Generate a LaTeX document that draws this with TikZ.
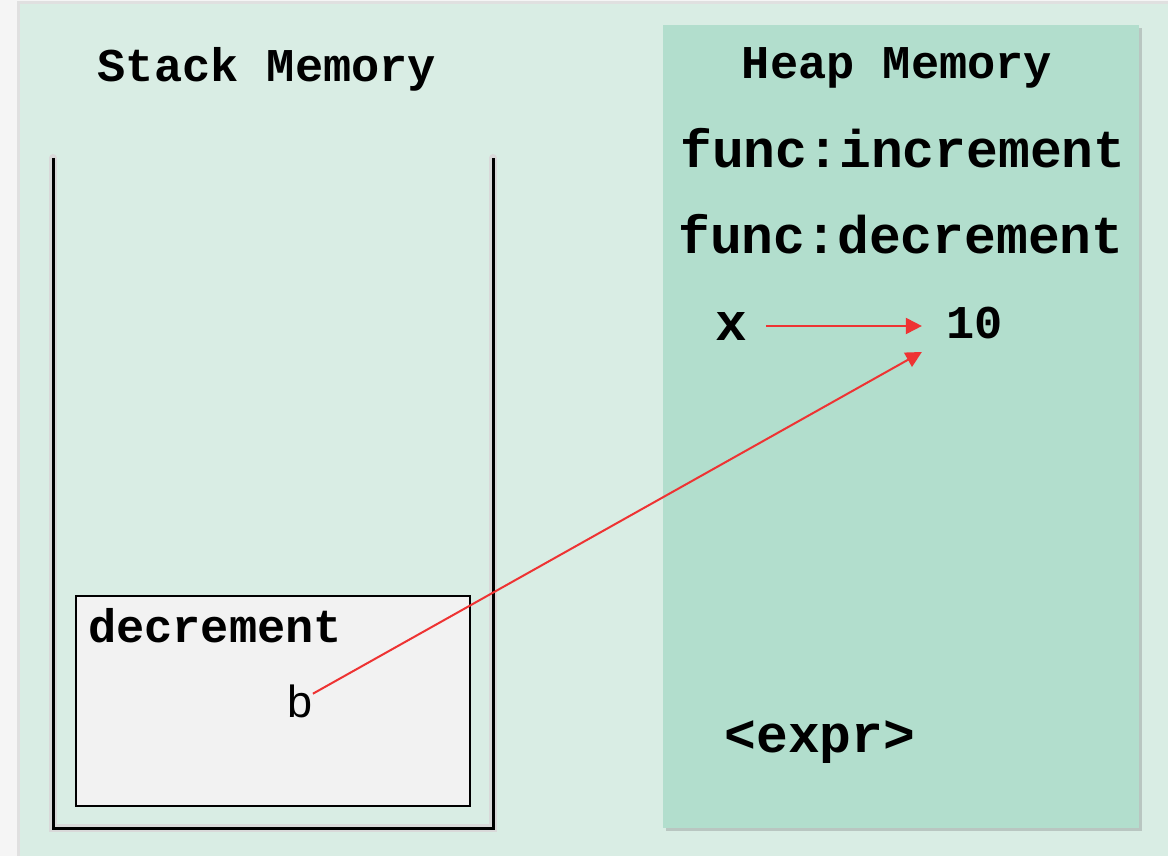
\documentclass[tikz,border=0pt]{standalone}
\usepackage{fontspec}
\usepackage{xcolor}
\usepackage{tikz}
\usetikzlibrary{arrows.meta, shadows}
\newfontfamily\codefont{Liberation Mono}
\newfontfamily\plainfont{Liberation Sans}
\definecolor{paneBg}{HTML}{D9EDE4}
\definecolor{heapBg}{HTML}{B2DECD}
\definecolor{frameBg}{HTML}{F2F2F2}
\definecolor{ptrRed}{HTML}{EE3333}

\begin{document}
\begin{tikzpicture}[
            x=0.5pt, y=-0.5pt,
            title text/.style = {
                font=\codefont\bfseries\fontsize{23.5}{26}\selectfont,
                anchor=base, inner sep=0pt
            },
            code text/.style = {
                font=\codefont\bfseries\fontsize{26.5}{30}\selectfont,
                anchor=base, inner sep=0pt
            },
            value text/.style = {
                font=\codefont\bfseries\fontsize{23.5}{26}\selectfont,
                anchor=base
            },
            name text/.style = {
                font=\plainfont\fontsize{22.5}{26}\selectfont,
                anchor=base
            },
            pointer/.style = {
                draw=ptrRed, line width=1pt,
                -{Triangle[length=8pt, width=8pt]}
            }
            ]

            % panels
            \fill[black!4] (0,0) rectangle (1168,856);
            \fill[black!12] (17,1) rectangle (1168,856);
            \fill[paneBg] (20,4) rectangle (1168,856);
            \fill[heapBg, drop shadow={opacity=0.35, shadow xshift=1.5pt, shadow yshift=-1.5pt}]
                (663,25) rectangle (1139,828);

            % stack container
            \draw[line width=4pt, black!15, line cap=round] (53,158) -- (53,828) -- (493,828) -- (493,158);
            \draw[line width=1.5pt] (53,158) -- (53,828) -- (493,828) -- (493,158);

            % frame of decrement
            \draw[fill=frameBg, line width=1pt] (76,596) rectangle (470,806);

            \node[title text] (stacktitle) at (267,82) {Stack Memory};
            \node[title text] (heaptitle) at (897,79) {Heap Memory};
            \node[title text] (frame) at (215,642) {decrement};

            \node[code text] (finc) at (903,168) {func:increment};
            \node[code text] (fdec) at (901,253) {func:decrement};
            \node[code text, inner xsep=9.5pt] (x) at (731,340) {x};
            \node[code text] (expr) at (820,752) {<expr>};

            \node[value text, inner xsep=12pt, inner ysep=12pt] (ten) at (974.5,338) {10};
            \node[name text, inner sep=0pt] (b) at (300,717) {b};

            \draw[pointer] (x.east) -- (x.east -| ten.west);
            \draw[pointer] (b) -- (ten);

            \useasboundingbox (0,0) rectangle (1168,856);
        \end{tikzpicture}
\end{document}
